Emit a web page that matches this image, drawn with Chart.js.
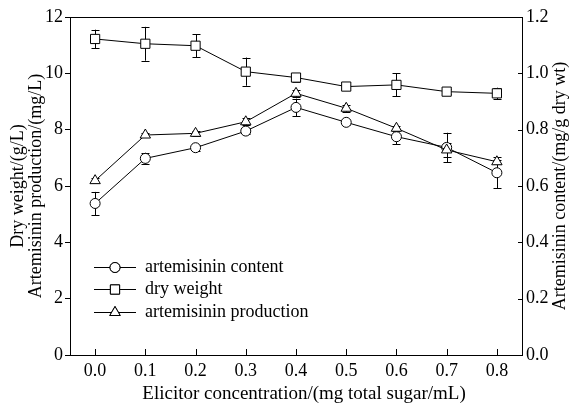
<!DOCTYPE html>
<html>
<head>
<meta charset="utf-8">
<style>
  html, body { margin: 0; padding: 0; background: #fff; }
  #wrap { width: 570px; height: 407px; }
</style>
</head>
<body>
<div id="wrap"><canvas id="elicitorChart"></canvas></div>

<script src="https://cdn.jsdelivr.net/npm/chart.js"></script>
<script>
    // Elicitor concentration (mg total sugar/mL)
    const concLabels = ['0.0', '0.1', '0.2', '0.3', '0.4', '0.5', '0.6', '0.7', '0.8'];

    // Dry weight (g/L), left axis
    const dryWeight = [11.22, 11.05, 10.98, 10.06, 9.85, 9.53, 9.59, 9.35, 9.29];
    const dryWeightErr = [0.33, 0.6, 0.41, 0.5, 0.15, 0.05, 0.41, 0.08, 0.2];

    // Artemisinin content (mg/g dry wt), right axis
    const artContent = [0.538, 0.698, 0.736, 0.795, 0.879, 0.826, 0.775, 0.737, 0.647];
    const artContentErr = [0.041, 0.02, 0.01, 0.01, 0.031, 0.01, 0.027, 0.052, 0.055];

    // Artemisinin production (mg/L), left axis
    const artProduction = [6.19, 7.81, 7.87, 8.28, 9.29, 8.76, 8.05, 7.28, 6.86];
    const artProductionErr = [0.08, 0.08, 0.08, 0.12, 0.12, 0.12, 0.08, 0.25, 0.08];

    const leftTicks = [0, 2, 4, 6, 8, 10, 12];
    const rightTicks = [0, 0.2, 0.4, 0.6, 0.8, 1.0, 1.2];

    const FONT = 'Liberation Serif, DejaVu Serif, serif';

    // feilstolper
    const errorBars = {
        id: 'errorBars',
        beforeDatasetsDraw(chart) {
            const ctx = chart.ctx;
            ctx.save();
            ctx.strokeStyle = '#000';
            ctx.lineWidth = 1;
            chart.data.datasets.forEach((ds, i) => {
                const meta = chart.getDatasetMeta(i);
                const ys = chart.scales[ds.yAxisID];
                meta.data.forEach((pt, j) => {
                    const v = ds.data[j], e = ds.errors[j];
                    const x = Math.round(pt.x) + 0.5;
                    const y1 = ys.getPixelForValue(v + e);
                    const y2 = ys.getPixelForValue(v - e);
                    ctx.beginPath();
                    ctx.moveTo(x, y1); ctx.lineTo(x, y2);
                    ctx.moveTo(x - 4, Math.round(y1) + 0.5); ctx.lineTo(x + 4, Math.round(y1) + 0.5);
                    ctx.moveTo(x - 4, Math.round(y2) + 0.5); ctx.lineTo(x + 4, Math.round(y2) + 0.5);
                    ctx.stroke();
                });
            });
            ctx.restore();
        }
    };

    // ramme, innovervendte tikk, titler og forklaring
    const decorations = {
        id: 'decorations',
        afterDraw(chart) {
            const ctx = chart.ctx;
            const area = chart.chartArea;
            const xs = chart.scales.x, yr = chart.scales.yRight;
            ctx.save();
            ctx.strokeStyle = '#000';
            ctx.fillStyle = '#000';
            ctx.lineWidth = 1;

            // top frame line
            ctx.beginPath();
            ctx.moveTo(area.left, Math.round(area.top) + 0.5);
            ctx.lineTo(area.right, Math.round(area.top) + 0.5);
            ctx.stroke();

            // inward ticks
            ctx.beginPath();
            xs.ticks.forEach((t, i) => {
                const x = Math.round(xs.getPixelForTick(i)) + 0.5;
                ctx.moveTo(x, area.bottom); ctx.lineTo(x, area.bottom - 6);
            });
            rightTicks.forEach(v => {
                const y = Math.round(yr.getPixelForValue(v)) + 0.5;
                ctx.moveTo(area.right, y); ctx.lineTo(area.right - 4, y);
            });
            ctx.stroke();

            ctx.textBaseline = 'middle';

            // x title
            ctx.font = '19px ' + FONT;
            ctx.textAlign = 'center';
            ctx.fillText('Elicitor concentration/(mg total sugar/mL)', (area.left + area.right) / 2 + 8, 394);

            // left title (two lines)
            ctx.font = '18px ' + FONT;
            const cy = (area.top + area.bottom) / 2;
            ctx.save();
            ctx.translate(18, cy);
            ctx.rotate(-Math.PI / 2);
            ctx.fillText('Dry weight/(g/L)', 0, 0);
            ctx.restore();
            ctx.save();
            ctx.translate(36, cy);
            ctx.rotate(-Math.PI / 2);
            ctx.fillText('Artemisinin production/(mg/L)', 0, 0);
            ctx.restore();

            // right title
            ctx.save();
            ctx.translate(560, cy);
            ctx.rotate(-Math.PI / 2);
            ctx.fillText('Artemisinin content/(mg/g dry wt)', 0, 0);
            ctx.restore();

            // legend
            const rows = [267, 289, 312];
            ctx.textAlign = 'left';
            chart.data.datasets.slice().sort((a, b) => a.legendOrder - b.legendOrder).forEach((ds, k) => {
                const y = rows[k] + 0.5;
                ctx.beginPath();
                ctx.moveTo(94, y); ctx.lineTo(136, y);
                ctx.stroke();
                Chart.helpers.drawPoint(ctx, {
                    pointStyle: ds.pointStyle,
                    radius: ds.pointRadius,
                    borderWidth: 1
                }, 115, y);
                ctx.fillStyle = '#fff';
                ctx.fill();
                ctx.stroke();
                ctx.fillStyle = '#000';
                ctx.fillText(ds.label, 145, rows[k]);
            });
            ctx.restore();
        }
    };

    const baseSet = {
        borderColor: '#000',
        backgroundColor: '#fff',
        pointBackgroundColor: '#fff',
        pointBorderColor: '#000',
        pointBorderWidth: 1,
        borderWidth: 1,
        tension: 0,
        fill: false
    };

    const ctxEl = document.getElementById('elicitorChart').getContext('2d');
    const elicitorChart = new Chart(ctxEl, {
        type: 'line',
        data: {
            labels: concLabels,
            datasets: [
                Object.assign({}, baseSet, {
                    label: 'dry weight',
                    data: dryWeight,
                    errors: dryWeightErr,
                    yAxisID: 'yLeft',
                    pointStyle: 'rect',
                    pointRadius: 6.5,
                    legendOrder: 1
                }),
                Object.assign({}, baseSet, {
                    label: 'artemisinin production',
                    data: artProduction,
                    errors: artProductionErr,
                    yAxisID: 'yLeft',
                    pointStyle: 'triangle',
                    pointRadius: 6,
                    legendOrder: 2
                }),
                Object.assign({}, baseSet, {
                    label: 'artemisinin content',
                    data: artContent,
                    errors: artContentErr,
                    yAxisID: 'yRight',
                    pointStyle: 'circle',
                    pointRadius: 5,
                    legendOrder: 0
                })
            ]
        },
        options: {
            responsive: true,
            maintainAspectRatio: false,
            animation: false,
            layout: { padding: { top: 17, left: 0, right: 0, bottom: 0 } },
            plugins: {
                legend: { display: false },
                tooltip: { enabled: false }
            },
            scales: {
                x: {
                    type: 'category',
                    offset: true,
                    grid: { display: false, drawOnChartArea: false, drawTicks: false },
                    border: { display: true, color: '#000', width: 1 },
                    ticks: { color: '#000', padding: 5, font: { family: FONT, size: 18 } },
                    afterFit(scale) { scale.height = 52; }
                },
                yLeft: {
                    type: 'linear',
                    position: 'left',
                    min: 0,
                    max: 12,
                    afterBuildTicks(scale) { scale.ticks = leftTicks.map(v => ({ value: v })); },
                    grid: { drawOnChartArea: false, tickLength: 5, color: '#000' },
                    border: { display: true, color: '#000', width: 1 },
                    ticks: { color: '#000', padding: 2, font: { family: FONT, size: 18 } },
                    afterFit(scale) { scale.width = 70; }
                },
                yRight: {
                    type: 'linear',
                    position: 'right',
                    min: 0,
                    max: 1.2,
                    afterBuildTicks(scale) { scale.ticks = rightTicks.map(v => ({ value: v })); },
                    grid: { display: false, drawOnChartArea: false, drawTicks: false },
                    border: { display: true, color: '#000', width: 1 },
                    ticks: {
                        color: '#000', padding: 4, font: { family: FONT, size: 18 },
                        callback: v => Number(v).toFixed(1)
                    },
                    afterFit(scale) { scale.width = 48; }
                }
            }
        },
        plugins: [errorBars, decorations]
    });
</script>
</body>
</html>
